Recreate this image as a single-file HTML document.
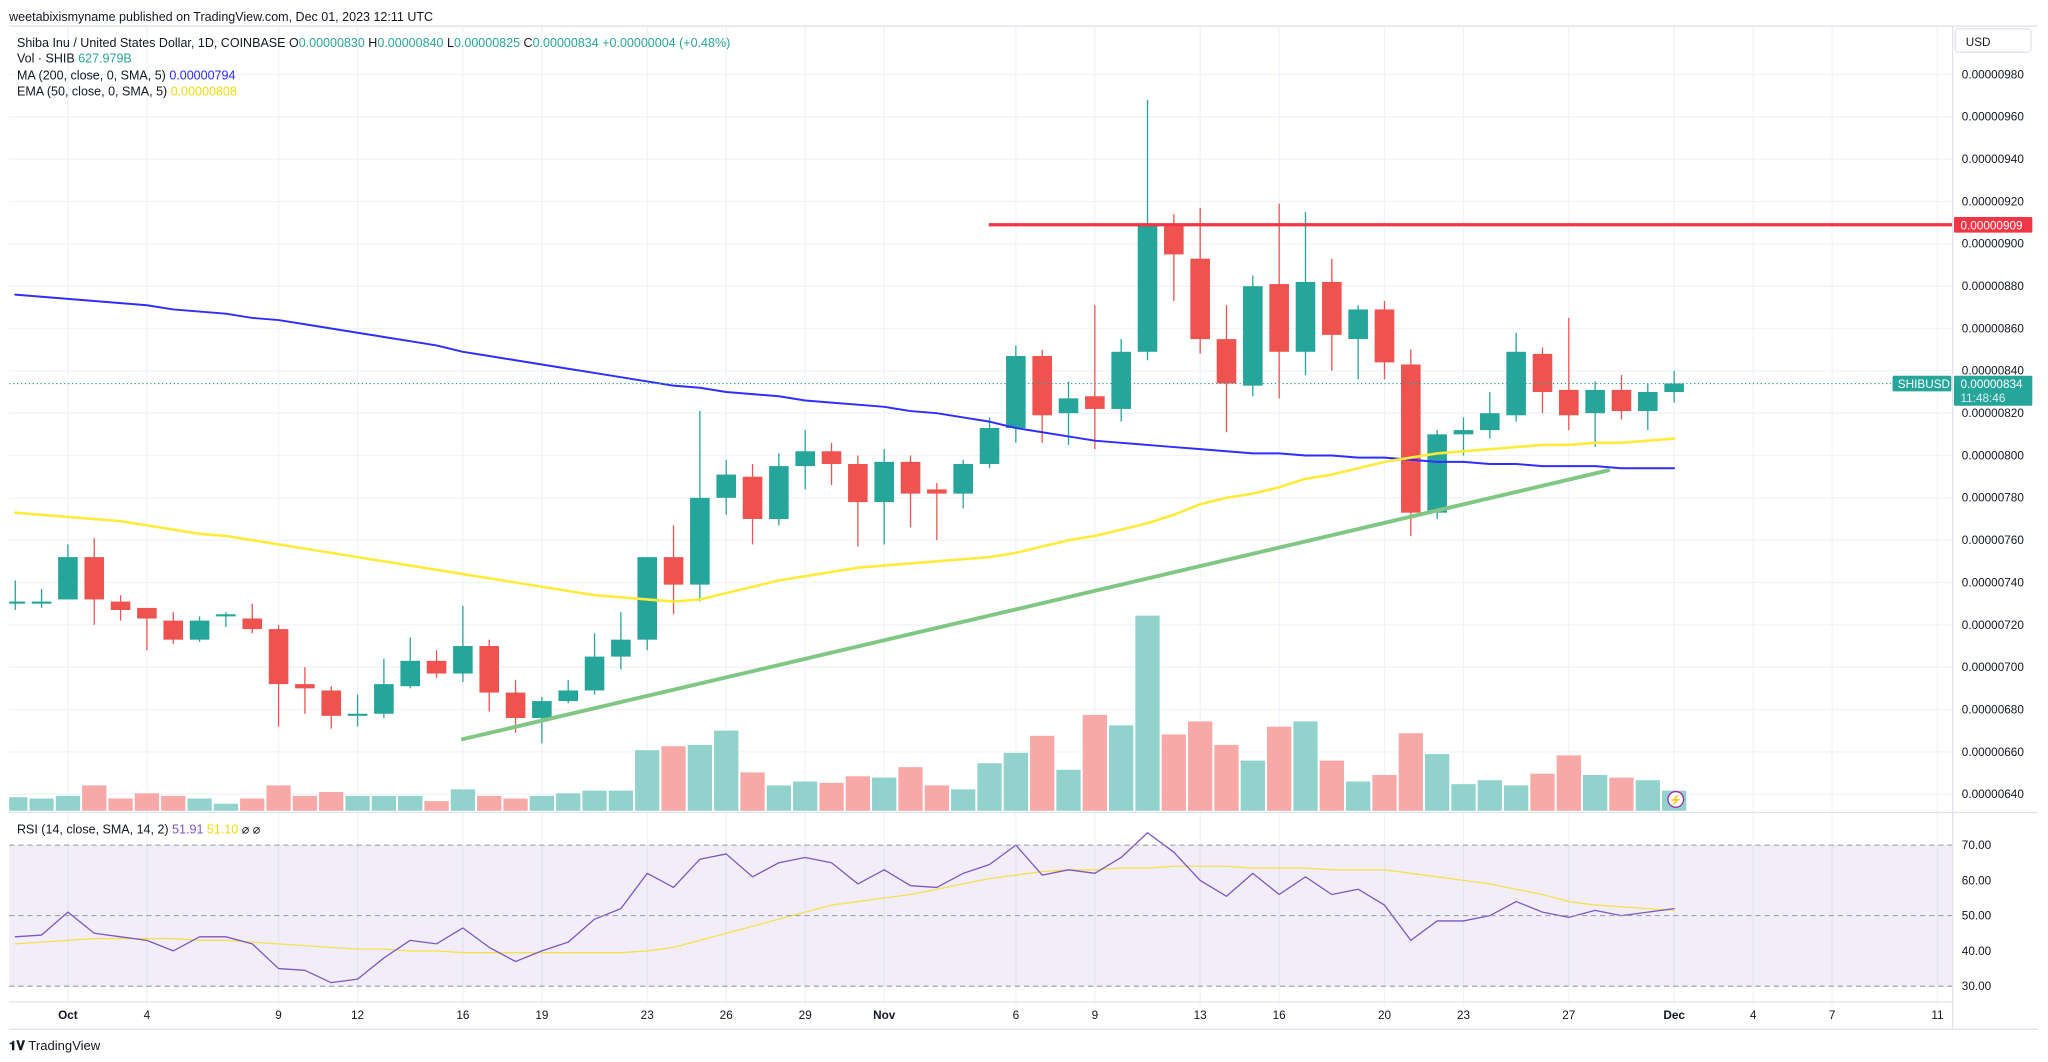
<!DOCTYPE html>
<html><head><meta charset="utf-8">
<style>
html,body{margin:0;padding:0;background:#fff;}
svg{display:block;font-family:"Liberation Sans",sans-serif;}
</style></head>
<body>
<svg id="chart" width="2048" height="1062" viewBox="0 0 1568 813" xmlns="http://www.w3.org/2000/svg">
<defs><clipPath id="pane"><rect x="7" y="20" width="1488" height="748"/></clipPath></defs>
<rect x="0" y="0" width="1568" height="813" fill="#ffffff"/>
<g id="grid"></g>
<rect x="7" y="647" width="1488" height="108" fill="#7e57c2" fill-opacity="0.1"/>
<g clip-path="url(#pane)">
<g id="vol"></g>
<g id="candles"></g>
<g id="lines"></g>
</g>
<g id="axes"></g>
<text x="7" y="16" font-size="9.6" fill="#131722">weetabixismyname published on TradingView.com, Dec 01, 2023 12:11 UTC</text>
<g font-size="9.6" fill="#131722">
<text x="13" y="36">Shiba Inu / United States Dollar, 1D, COINBASE  O<tspan fill="#26a69a">0.00000830</tspan>  H<tspan fill="#26a69a">0.00000840</tspan>  L<tspan fill="#26a69a">0.00000825</tspan>  C<tspan fill="#26a69a">0.00000834  +0.00000004 (+0.48%)</tspan></text>
<text x="13" y="48">Vol · SHIB  <tspan fill="#26a69a">627.979B</tspan></text>
<text x="13" y="61">MA (200, close, 0, SMA, 5)  <tspan fill="#2a2aff">0.00000794</tspan></text>
<text x="13" y="73">EMA (50, close, 0, SMA, 5)  <tspan fill="#f5d90a">0.00000808</tspan></text>
<text x="13" y="638">RSI (14, close, SMA, 14, 2)  <tspan fill="#7e57c2">51.91</tspan>  <tspan fill="#f5d90a">51.10</tspan>  ⌀  ⌀</text>
</g>
<text x="7" y="804" font-size="10" fill="#131722"><tspan font-weight="bold">𝟏𝐕</tspan> TradingView</text>
</svg>
<script>
const days=[];for(let d=-2;d<=61;d++)days.push(d);
const opens =[730,730,732,752,731,728,722,713,724,723,718,692,689,677,678,691,703,697,710,688,676,684,689,705,713,752,739,780,790,770,795,802,796,778,797,784,782,796,813,847,820,828,822,849,909,893,855,833,881,849,882,855,869,843,773,810,812,819,848,831,820,831,821,830];
const highs =[741,737,758,761,734,725,726,724,726,730,720,700,691,687,704,714,708,729,713,694,686,694,716,726,752,767,821,798,796,801,812,806,800,803,800,787,798,818,852,850,835,871,855,968,914,917,871,885,919,915,893,871,873,850,812,818,830,858,851,865,835,838,834,840];
const lows  =[727,728,733,720,722,708,711,712,719,716,672,678,671,672,676,690,695,693,679,669,664,683,687,699,708,725,731,772,758,767,784,786,757,758,766,760,775,794,806,806,805,803,816,845,873,848,811,828,827,838,840,836,836,762,770,800,808,816,820,812,804,817,812,825];
const closes=[731,731,752,732,727,723,713,722,725,718,692,690,677,678,692,703,697,710,688,676,684,689,705,713,752,739,780,791,770,795,802,796,778,797,782,782,796,813,847,819,827,822,849,909,895,855,834,880,849,882,857,869,844,773,810,812,820,849,830,819,831,821,830,834];
const volumes=[11,10,12,20,10,14,12,10,6,10,20,12,15,12,12,12,8,17,12,10,12,14,16,16,47,50,51,62,30,20,23,22,27,26,34,20,17,37,45,58,32,74,66,150,59,69,51,39,65,69,39,23,28,60,44,21,24,20,29,43,28,26,24,16];
const ma200=[876,875,874,873,872,871,869,868,867,865,864,862,860,858,856,854,852,849,847,845,843,841,839,837,835,833,832,830,829,828,826,825,824,823,821,820,818,816,813,811,809,807,806,805,804,803,802,801,801,800,800,799,799,798,797,797,796,796,795,795,795,794,794,794];
const ema50=[773,772,771,770,769,767,765,763,762,760,758,756,754,752,750,748,746,744,742,740,738,736,734,733,732,731,732,735,738,741,743,745,747,748,749,750,751,752,754,757,760,762,765,768,772,777,780,782,785,789,791,794,797,799,801,802,803,804,805,805,806,806,807,808];
const rsi=[44,44.5,51,45,44,43,40,44,44,42,35,34.5,31,32,38,43,42,46.5,41,37,40,42.5,49,52,62,58,66,67.5,61,65,66.5,65,59,63,58.5,58,62,64.5,70,61.5,63,62,66.5,73.5,68,60,55.5,62,56,61,56,57.5,53,43,48.5,48.5,50,54,51,49.5,51.5,50,51,52];
const rsiMa=[42,42.5,43,43.5,43.5,43.5,43.5,43,43,42.5,42,41.5,41,40.5,40.5,40,40,39.5,39.5,39.5,39.5,39.5,39.5,39.5,40,41,43,45,47,49,51,53,54,55,56,57.5,59,60.5,61.5,62.5,63,63,63.5,63.5,64,64,64,63.5,63.5,63.5,63,63,63,62,61,60,59,57.5,56,54,53,52.5,52,51.5];
const priceTicks=[640,660,680,700,720,740,760,780,800,820,840,860,880,900,920,940,960,980];
const rsiTicks=[30,40,50,60,70];
const dateTicks=[[0,"Oct"],[3,"4"],[8,"9"],[11,"12"],[15,"16"],[18,"19"],[22,"23"],[25,"26"],[28,"29"],[31,"Nov"],[36,"6"],[39,"9"],[43,"13"],[46,"16"],[50,"20"],[53,"23"],[57,"27"],[61,"Dec"],[64,"4"],[67,"7"],[71,"11"]];
const resistance=909, lastPrice=834;
const trendStart=[15,666], trendEnd=[58.5,793];

const NS="http://www.w3.org/2000/svg";
const X=d=>52+20.16*d;
const Y=p=>608-(p-640)*1.6206;
const RY=r=>647-(r-70)*2.7;
const VY=v=>621-v;
function mk(parent,tag,attrs){const e=document.createElementNS(NS,tag);for(const k in attrs)e.setAttribute(k,attrs[k]);document.getElementById(parent).appendChild(e);return e;}

dateTicks.forEach(t=>{const e=mk('grid','line',{x1:X(t[0]),x2:X(t[0]),y1:20,y2:770,stroke:'#f0f3fa','stroke-width':1});

});
priceTicks.forEach(p=>{const e=mk('grid','line',{x1:7,x2:1495,y1:Y(p),y2:Y(p),stroke:'#f0f3fa','stroke-width':1});

});

days.forEach((d,i)=>{const up=closes[i]>=opens[i];const e=mk('vol','rect',{x:X(d)-9.6,y:VY(volumes[i]),width:19.2,height:volumes[i],fill:up?'#92d2cc':'#f7a9a7',stroke:'#fff','stroke-width':0.6});

});

days.forEach((d,i)=>{const up=closes[i]>=opens[i];const c=up?'#26a69a':'#ef5350';
const w=mk('candles','line',{x1:X(d),x2:X(d),y1:Y(highs[i]),y2:Y(lows[i]),stroke:c,'stroke-width':1});


const t=Y(Math.max(opens[i],closes[i])),b=Y(Math.min(opens[i],closes[i]));
const r=mk('candles','rect',{x:X(d)-7.5,y:t,width:15,height:Math.max(b-t,1.5),fill:c});

});

function poly(arr,yf,color,w,name){const pts=days.map((d,i)=>X(d)+','+yf(arr[i])).join(' ');
const e=mk('lines','polyline',{points:pts,fill:'none',stroke:color,'stroke-width':w,'stroke-linejoin':'round','stroke-linecap':'round'});

}
poly(ma200,Y,'#2e2eff',1.5,'ma200-line');
poly(ema50,Y,'#ffeb3b',2,'ema50-line');
poly(rsiMa,RY,'#f5e050',1,'rsi-ma-line');
poly(rsi,RY,'#7e57c2',1,'rsi-line');

let e;
e=mk('lines','line',{x1:757,x2:1497,y1:Y(resistance),y2:Y(resistance),stroke:'#f23645','stroke-width':2.5});


e=mk('lines','line',{x1:X(trendStart[0]),y1:Y(trendStart[1]),x2:X(trendEnd[0]),y2:Y(trendEnd[1]),stroke:'#81c784','stroke-width':3,'stroke-linecap':'round'});


e=mk('lines','line',{x1:7,x2:1495,y1:Y(lastPrice),y2:Y(lastPrice),stroke:'#26a69a','stroke-width':0.8,'stroke-dasharray':'1 2'});


rsiTicks.filter(r=>r!==40&&r!==60).forEach(r=>{const l=mk('lines','line',{x1:7,x2:1495,y1:RY(r),y2:RY(r),stroke:'#9598a1','stroke-width':0.8,'stroke-dasharray':'4 3'});

});

e=mk('axes','line',{x1:1495,x2:1495,y1:20,y2:788,stroke:'#e0e3eb','stroke-width':1});


e=mk('axes','line',{x1:7,x2:1560,y1:622,y2:622,stroke:'#e0e3eb','stroke-width':1});


e=mk('axes','line',{x1:7,x2:1495,y1:767,y2:767,stroke:'#e0e3eb','stroke-width':1});


e=mk('axes','line',{x1:7,x2:1560,y1:788,y2:788,stroke:'#e0e3eb','stroke-width':1});


e=mk('axes','line',{x1:7,x2:1560,y1:20,y2:20,stroke:'#e0e3eb','stroke-width':1});


priceTicks.forEach(p=>{const t=mk('axes','text',{x:1502,y:Y(p)+3,'font-size':9,fill:'#131722'});t.textContent='0.00000'+p;

});
rsiTicks.forEach(r=>{const t=mk('axes','text',{x:1502,y:RY(r)+3,'font-size':9,fill:'#131722'});t.textContent=r.toFixed(2);

});
dateTicks.forEach(t=>{const bold=isNaN(+t[1]);const x=mk('axes','text',{x:X(t[0]),y:780,'font-size':9,fill:'#131722','text-anchor':'middle','font-weight':bold?'bold':'normal'});x.textContent=t[1];

});
e=mk('axes','rect',{x:1497,y:22,width:58,height:18,rx:2,fill:'#fff',stroke:'#e0e3eb'});


e=mk('axes','text',{x:1505,y:35,'font-size':9,fill:'#131722'});e.textContent='USD';


e=mk('axes','rect',{x:1496,y:Y(resistance)-6,width:60,height:12,rx:1,fill:'#f23645'});


e=mk('axes','text',{x:1501,y:Y(resistance)+3.5,'font-size':9,fill:'#fff'});e.textContent='0.00000'+resistance;


e=mk('axes','rect',{x:1496,y:Y(lastPrice)-6,width:60,height:23,rx:1,fill:'#26a69a'});


e=mk('axes','text',{x:1501,y:Y(lastPrice)+3.5,'font-size':9,fill:'#fff'});e.textContent='0.00000'+lastPrice;


e=mk('axes','text',{x:1501,y:Y(lastPrice)+14,'font-size':9,fill:'#d8f0ed'});e.textContent='11:48:46';


e=mk('axes','rect',{x:1449,y:Y(lastPrice)-6,width:45,height:12,rx:1,fill:'#26a69a'});


e=mk('axes','text',{x:1453,y:Y(lastPrice)+3.5,'font-size':9,fill:'#fff'});e.textContent='SHIBUSD';


e=mk('axes','circle',{cx:1283,cy:612,r:6,fill:'#fff',stroke:'#9c27b0','stroke-width':1});


e=mk('axes','text',{x:1283,y:615,'font-size':8,fill:'#9c27b0','text-anchor':'middle'});e.textContent='⚡';


</script>
</body></html>
